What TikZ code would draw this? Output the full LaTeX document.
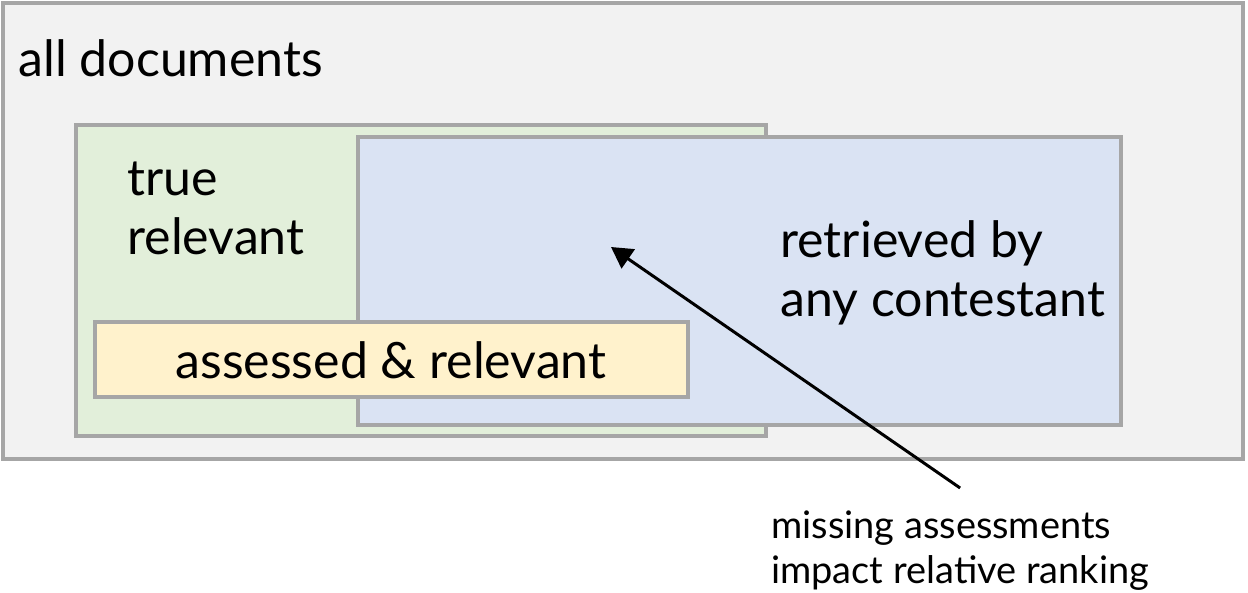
\documentclass[tikz,border=0pt]{standalone}
\usepackage{fontspec}
\setmainfont{Lato}
\usepackage{tikz}
\usetikzlibrary{positioning, arrows.meta}

\definecolor{allfill}{HTML}{F2F2F2}
\definecolor{truefill}{HTML}{E2EFDA}
\definecolor{retrfill}{HTML}{DAE3F3}
\definecolor{assfill}{HTML}{FFF2CC}
\definecolor{setline}{HTML}{A6A6A6}

\tikzset{
    setbox/.style={draw=setline, line width=1.9pt},
    biglabel/.style={inner sep=0pt, align=left, font=\fontsize{28.5}{34}\selectfont},
    smalllabel/.style={inner sep=0pt, align=left, font=\fontsize{21.6}{25.5}\selectfont},
}

\begin{document}
\begin{tikzpicture}[x=0.02cm, y=-0.02cm]
            \useasboundingbox (0, 0) rectangle (1248, 592);

            \draw[setbox, fill=allfill] (3, 3) rectangle (1243, 459);
            \draw[setbox, fill=truefill] (76, 125) rectangle (766, 436);
            \draw[setbox, fill=retrfill] (358, 137) rectangle (1121, 425);
            \draw[setbox, fill=assfill] (95, 322) rectangle (688, 397);

            \node[biglabel, anchor=base west] (alldocs) at (18, 76) {all documents};
            \node[biglabel, anchor=north west] (truerel) at (127, 153) {\strut true\\relevant};
            \node[biglabel, anchor=north west] (retrieved) at (780, 215) {\strut retrieved by\\any contestant};
            \node[biglabel, anchor=base] (assessed) at (391, 378) {assessed \& relevant};
            \node[smalllabel, anchor=north west] (missing) at (771, 507) {\strut missing assessments\\impact relative ranking};

            \coordinate (gap) at (611, 247);
            \draw[-{Triangle[length=0.42cm, width=0.46cm]}, line width=1.7pt] ([yshift=0.38cm]missing.north) -- (gap);
        \end{tikzpicture}
\end{document}
